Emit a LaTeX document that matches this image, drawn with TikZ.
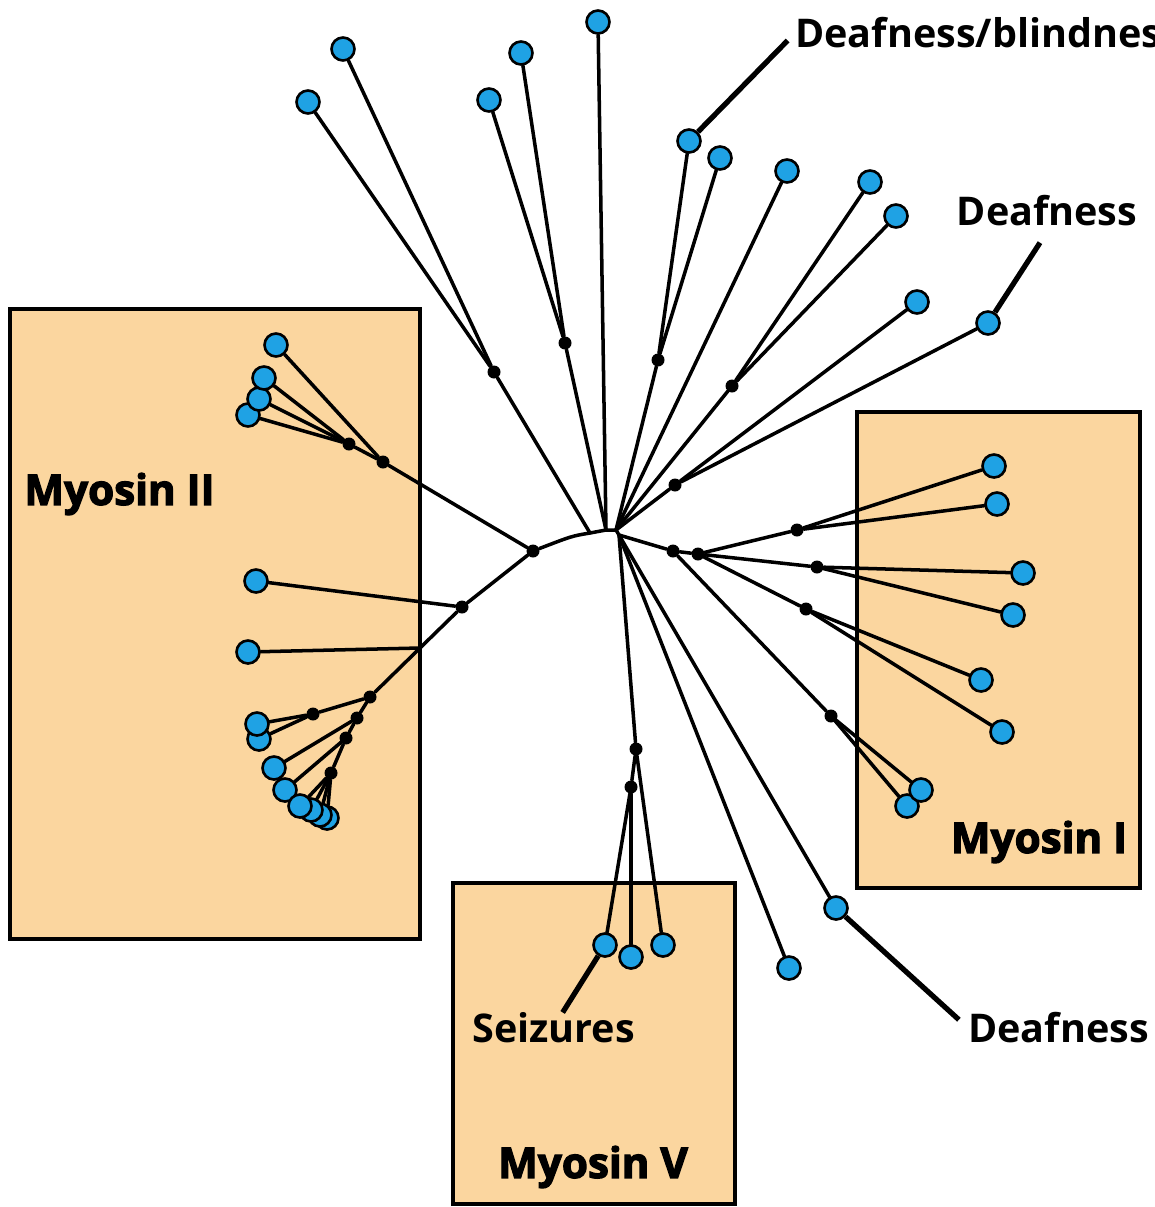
\documentclass[tikz,border=0pt]{standalone}
\usepackage{fontspec}
\newfontfamily\labelfont{Open Sans}
\newfontfamily\heavyfont{Open Sans}[FakeBold=3]
\usetikzlibrary{calc}
\definecolor{leafblue}{HTML}{1FA2E4}
\definecolor{boxtan}{HTML}{FBD69F}
\pgfdeclarelayer{boxes}
\pgfdeclarelayer{edges}
\pgfsetlayers{boxes,edges,main}

\begin{document}
\begin{tikzpicture}[
  x=0.02cm, y=-0.02cm,
  leaf/.style={circle, draw=black, line width=1.5pt, fill=leafblue,
               minimum size=4.6mm, inner sep=0pt},
  dot/.style={circle, fill=black, minimum size=2.6mm, inner sep=0pt},
  branch/.style={line width=2pt, line cap=round},
  pointer/.style={line width=3pt},
  groupbox/.style={fill=boxtan, draw=black, line width=2.2pt},
  disease/.style={font=\labelfont\bfseries\fontsize{22.5}{26}\selectfont, inner sep=0pt},
  family/.style={font=\heavyfont\bfseries\fontsize{24}{28}\selectfont, inner sep=0pt},
]

\useasboundingbox (0,0) rectangle (1154,1207);

% =============================================
% Family boxes
% =============================================
\begin{pgfonlayer}{boxes}
  \draw[groupbox] (10,309) rectangle (420,939);
  \draw[groupbox] (857,412) rectangle (1140,888);
  \draw[groupbox] (453,883) rectangle (735,1204);
\end{pgfonlayer}

\node[family, anchor=west] (famII) at (24,494) {Myosin II};
\node[family] (famI) at (1039,842) {Myosin I};
\node[family] (famV) at (593,1167) {Myosin V};

% =============================================
% Root and inner junctions
% =============================================
\coordinate (r1) at (590,533);
\coordinate (r2) at (606,530);
\coordinate (r3) at (616,530);
\coordinate (r4) at (619,535);
\coordinate (jIIa) at (420,648);

\foreach \n/\x/\y in {dII/533/551, dIIa/383/462, dIIb/349/444, dIIc/462/607,
                      dIId/370/697, dIIe/313/714, dIIf/357/718, dIIg/346/738,
                      dIIh/331/773,
                      dA/494/372, dB/565/343, dC/658/360, dD/732/386, dE/675/485,
                      dI/673/551, dIa/698/554, dIb/797/530, dIc/817/567,
                      dId/806/609, dIe/831/716,
                      dV/636/749, dVa/631/787}
  \node[dot] (\n) at (\x,\y) {};

% =============================================
% Leaves
% =============================================
% Myosin II
\foreach \n/\x/\y in {p1/276/345, p4/248/415, p3/259/399, p2/264/378,
                      p5/256/581, p6/248/652, p8/259/739, p7/257/724,
                      p9/274/768, p10/285/790,
                      p14/327/818, p13/320/815, p12/311/810, p11/300/806}
  \node[leaf] (\n) at (\x,\y) {};

% top fan
\foreach \n/\x/\y in {t1/308/102, t2/343/49, t3/598/22, t4/489/100, t5/521/53,
                      t6/787/171, t7/689/141, t8/720/158, t9/870/182,
                      t10/896/216, t11/917/302, t12/988/323}
  \node[leaf] (\n) at (\x,\y) {};

% Myosin I
\foreach \n/\x/\y in {i1/994/466, i2/997/504, i3/1023/573, i4/1013/615,
                      i5/981/680, i6/1002/732, i8/907/806, i7/921/790}
  \node[leaf] (\n) at (\x,\y) {};

% Myosin V and lower branches
\foreach \n/\x/\y in {v1/605/945, v2/631/957, v3/663/945,
                      b1/789/968, b2/836/908}
  \node[leaf] (\n) at (\x,\y) {};

% =============================================
% Branches
% =============================================
\begin{pgfonlayer}{edges}
  \draw[branch] (dII) .. controls (572,536) .. (r1) -- (r2) -- (r3) -- (r4);

  \foreach \a/\b in {dII/dIIa, dII/dIIc, dIIa/p1, dIIa/dIIb, dIIb/p2, dIIb/p3,
                     dIIb/p4, dIIc/p5, dIIc/jIIa, jIIa/dIId, jIIa/p6,
                     dIId/dIIe, dIId/dIIf, dIIe/p7, dIIe/p8, dIIf/p9,
                     dIIf/dIIg, dIIg/p10, dIIg/dIIh,
                     dIIh/p11, dIIh/p12, dIIh/p13, dIIh/p14}
    \draw[branch] (\a) -- (\b);

  \foreach \a/\b in {r1/dA, dA/t1, dA/t2, r2/dB, dB/t4, dB/t5, r2/t3,
                     r3/dC, dC/t7, dC/t8, r3/t6, r3/dD, dD/t9, dD/t10,
                     r3/dE, dE/t11, dE/t12}
    \draw[branch] (\a) -- (\b);

  \foreach \a/\b in {r4/dI, dI/dIa, dI/dIe, dIa/dIb, dIa/dIc, dIa/dId,
                     dIb/i1, dIb/i2, dIc/i3, dIc/i4, dId/i5, dId/i6,
                     dIe/i7, dIe/i8,
                     r4/dV, dV/dVa, dV/v3, dVa/v1, dVa/v2, r4/b1, r4/b2}
    \draw[branch] (\a) -- (\b);
\end{pgfonlayer}

% =============================================
% Disease labels
% =============================================
\node[disease, anchor=west] (lblDB) at (795,33) {Deafness/blindness};
\node[disease] (lblD1) at (1047,211) {Deafness};
\node[disease, anchor=west] (lblD2) at (968,1028) {Deafness};
\node[disease, anchor=west] (lblSz) at (472,1028) {Seizures};

\draw[pointer, shorten >=6pt] (t7) -- (lblDB.west);
\draw[pointer] (t12) -- ($(lblD1.south)+(-7,16)$);
\draw[pointer, shorten >=7pt] (b2) -- (lblD2.west);
\draw[pointer] (v1) -- ($(lblSz.north)+(9,0)$);

\end{tikzpicture}
\end{document}
